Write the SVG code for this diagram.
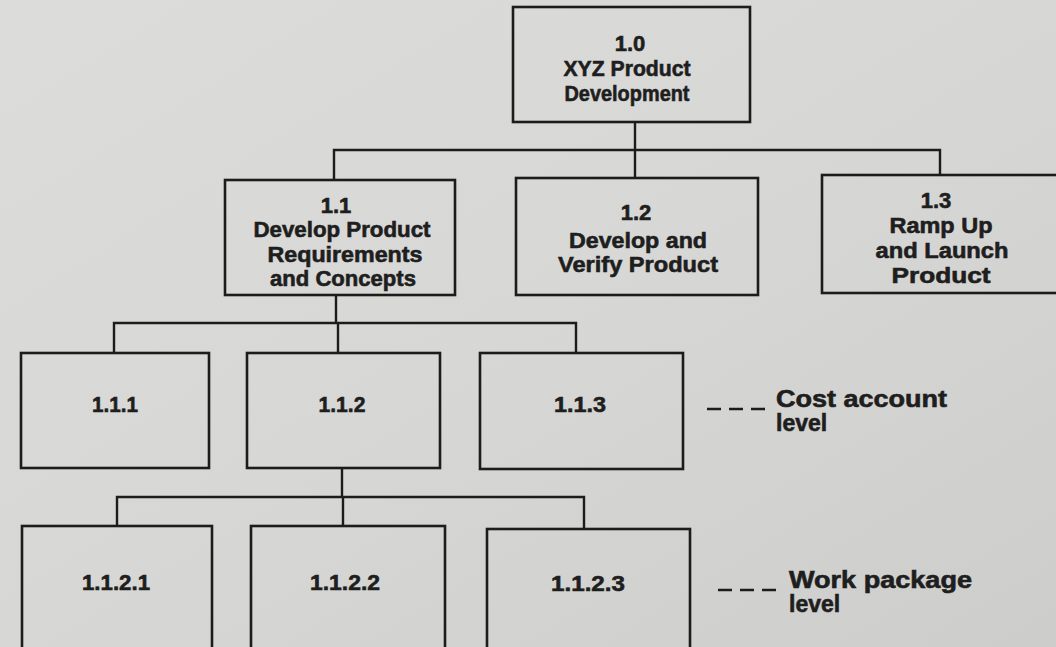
<svg xmlns="http://www.w3.org/2000/svg" width="1056" height="647" viewBox="0 0 1056 647">
  <defs>
    <linearGradient id="paper" x1="0" y1="0" x2="1" y2="1">
      <stop offset="0" stop-color="#dcdcda"/>
      <stop offset="0.5" stop-color="#d7d7d5"/>
      <stop offset="1" stop-color="#cdcdcb"/>
    </linearGradient>
  </defs>
  <style>
    .box { fill: none; stroke: #1c1c1c; stroke-width: 2.6; }
    .wire { fill: none; stroke: #1c1c1c; stroke-width: 2.4; }
    .dash { fill: none; stroke: #1c1c1c; stroke-width: 2.6; stroke-dasharray: 14 8; }
    text { font-family: "Liberation Sans", Arial, sans-serif; font-weight: bold; fill: #1e1e1e; stroke: #1e1e1e; stroke-width: 0.6; }
    .t { font-size: 22px; text-anchor: middle; }
    .lbl { font-size: 23px; }
  </style>

  <rect x="0" y="0" width="1056" height="647" fill="url(#paper)"/>

  <!-- tree connectors -->
  <g id="connectors">
    <path class="wire" d="M635,122 V150 M334,180 V150 H940 V175 M635,150 V178"/>
    <path class="wire" d="M336,295 V323 M114,353 V323 H576 V353 M338,323 V353"/>
    <path class="wire" d="M342,468 V497 M117,526 V497 H584 V529 M343,497 V526"/>
  </g>

  <!-- level 1 -->
  <g id="n1-0">
    <rect class="box" x="513" y="7" width="237" height="115"/>
    <text class="t" x="630" y="51">1.0</text>
    <text class="t" x="627" y="76" textLength="127" lengthAdjust="spacingAndGlyphs">XYZ Product</text>
    <text class="t" x="627" y="101" textLength="125" lengthAdjust="spacingAndGlyphs">Development</text>
  </g>

  <!-- level 2 -->
  <g id="n1-1">
    <rect class="box" x="225" y="180" width="230" height="115"/>
    <text class="t" x="336" y="213">1.1</text>
    <text class="t" x="342" y="237" textLength="177" lengthAdjust="spacingAndGlyphs">Develop Product</text>
    <text class="t" x="345" y="262" textLength="155" lengthAdjust="spacingAndGlyphs">Requirements</text>
    <text class="t" x="343" y="286" textLength="146" lengthAdjust="spacingAndGlyphs">and Concepts</text>
  </g>
  <g id="n1-2">
    <rect class="box" x="516" y="178" width="242" height="117"/>
    <text class="t" x="636" y="220">1.2</text>
    <text class="t" x="638" y="248" textLength="138" lengthAdjust="spacingAndGlyphs">Develop and</text>
    <text class="t" x="638" y="272" textLength="160" lengthAdjust="spacingAndGlyphs">Verify Product</text>
  </g>
  <g id="n1-3">
    <rect class="box" x="822" y="175" width="240" height="118"/>
    <text class="t" x="936" y="208">1.3</text>
    <text class="t" x="941" y="233" textLength="103" lengthAdjust="spacingAndGlyphs">Ramp Up</text>
    <text class="t" x="942" y="258" textLength="133" lengthAdjust="spacingAndGlyphs">and Launch</text>
    <text class="t" x="941" y="283" textLength="99" lengthAdjust="spacingAndGlyphs">Product</text>
  </g>

  <!-- level 3 (cost accounts) -->
  <g id="n1-1-1">
    <rect class="box" x="21" y="353" width="188" height="115"/>
    <text class="t" x="115" y="412" textLength="46" lengthAdjust="spacingAndGlyphs">1.1.1</text>
  </g>
  <g id="n1-1-2">
    <rect class="box" x="247" y="353" width="193" height="115"/>
    <text class="t" x="342" y="412" textLength="47" lengthAdjust="spacingAndGlyphs">1.1.2</text>
  </g>
  <g id="n1-1-3">
    <rect class="box" x="480" y="353" width="203" height="116"/>
    <text class="t" x="580" y="412" textLength="52" lengthAdjust="spacingAndGlyphs">1.1.3</text>
  </g>

  <!-- level 4 (work packages) -->
  <g id="n1-1-2-1">
    <rect class="box" x="22" y="526" width="190" height="140"/>
    <text class="t" x="116" y="590" textLength="68" lengthAdjust="spacingAndGlyphs">1.1.2.1</text>
  </g>
  <g id="n1-1-2-2">
    <rect class="box" x="251" y="526" width="194" height="140"/>
    <text class="t" x="345" y="590" textLength="70" lengthAdjust="spacingAndGlyphs">1.1.2.2</text>
  </g>
  <g id="n1-1-2-3">
    <rect class="box" x="487" y="529" width="203" height="140"/>
    <text class="t" x="588" y="591" textLength="74" lengthAdjust="spacingAndGlyphs">1.1.2.3</text>
  </g>

  <!-- level annotations -->
  <g id="cost-account-level">
    <path class="dash" d="M707,409 H766"/>
    <text class="lbl" x="776" y="407" textLength="171" lengthAdjust="spacingAndGlyphs">Cost account</text>
    <text class="lbl" x="776" y="431">level</text>
  </g>
  <g id="work-package-level">
    <path class="dash" d="M718,590 H780"/>
    <text class="lbl" x="789" y="588" textLength="183" lengthAdjust="spacingAndGlyphs">Work package</text>
    <text class="lbl" x="789" y="612">level</text>
  </g>
</svg>
